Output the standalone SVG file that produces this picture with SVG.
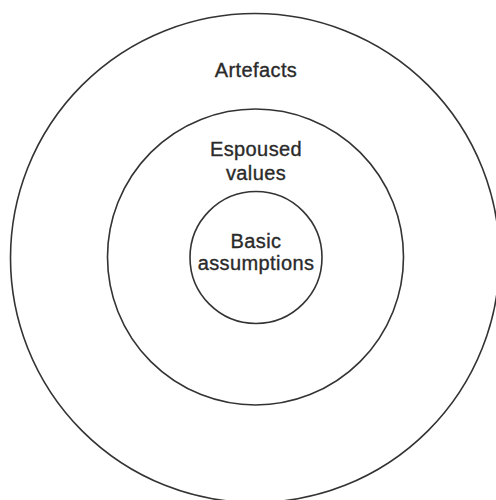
<svg xmlns="http://www.w3.org/2000/svg" width="496" height="500" viewBox="0 0 496 500">
  <style>
    .ring { fill: none; stroke: #333; stroke-width: 1.6; }
    .label { font-family: "Liberation Sans", Arial, sans-serif; font-size: 20px; fill: #2a2a2a; stroke: #2a2a2a; stroke-width: 0.35; letter-spacing: 0.4px; text-anchor: middle; }
  </style>
  <rect width="496" height="500" fill="#fff"/>
  <g id="artefacts">
    <circle class="ring" cx="255" cy="258" r="244.5"/>
    <text class="label" x="256" y="77">Artefacts</text>
  </g>
  <g id="espoused-values">
    <circle class="ring" cx="255.5" cy="257" r="148"/>
    <text class="label" x="256" y="156">Espoused</text>
    <text class="label" x="256" y="180">values</text>
  </g>
  <g id="basic-assumptions">
    <circle class="ring" cx="256" cy="257.5" r="66"/>
    <text class="label" x="256" y="248">Basic</text>
    <text class="label" x="256" y="270">assumptions</text>
  </g>
  <g id="connectors"/>
</svg>
